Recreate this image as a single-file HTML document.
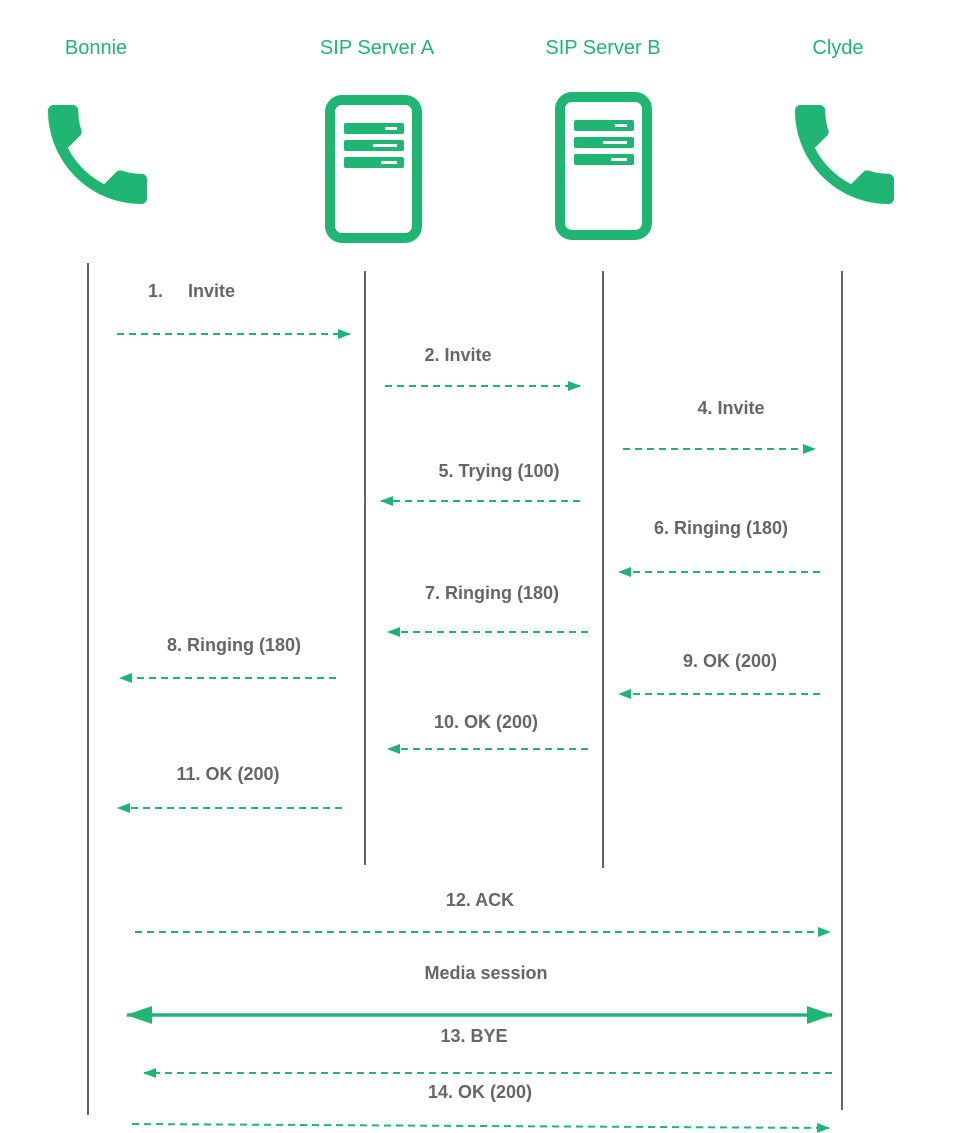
<!DOCTYPE html>
<html><head><meta charset="utf-8"><style>
html,body{margin:0;padding:0;background:#fff;}
svg{display:block;}
.h{font-family:"Liberation Sans",sans-serif;font-size:20px;fill:#21b573;text-anchor:middle;}
.t{font-family:"Liberation Sans",sans-serif;font-size:18px;font-weight:bold;fill:#666;text-anchor:middle;}
.d{stroke:#21b573;stroke-width:2;stroke-dasharray:7 5;fill:none;}
.l{stroke:#666;stroke-width:2;}
</style></head><body>
<svg width="970" height="1133" viewBox="0 0 970 1133" xmlns="http://www.w3.org/2000/svg">
<defs>
<marker id="a" markerWidth="13" markerHeight="10" refX="12" refY="5" orient="auto" markerUnits="userSpaceOnUse"><path d="M0 0L13 5L0 10z" fill="#21b573"/></marker>
<marker id="b" markerWidth="26" markerHeight="18" refX="25" refY="9" orient="auto-start-reverse" markerUnits="userSpaceOnUse"><path d="M0 0L26 9L0 18z" fill="#21b573"/></marker>
<g id="ph"><path transform="translate(31.5,88.5) scale(5.5)" fill="#21b573" d="M6.62 10.79c1.44 2.83 3.76 5.14 6.59 6.59l2.2-2.2c.27-.27.67-.36 1.02-.24 1.120.37 2.330.57 3.570.57.55 0 1 .45 1 1V20c0 .55-.45 1-1 1-9.39 0-17-7.61-17-17 0-.55.45-1 1-1h3.5c.55 0 1 .45 1 1 0 1.25.2 2.45.57 3.57.11.35.03.74-.25 1.02l-2.2 2.2z"/></g>
<g id="sv"><rect x="5" y="5" width="87" height="138" rx="12" fill="none" stroke="#21b573" stroke-width="10"/>
<rect x="19" y="28" width="60" height="11" rx="2" fill="#21b573"/><rect x="60" y="32" width="12" height="3" fill="#fff"/>
<rect x="19" y="45" width="60" height="11" rx="2" fill="#21b573"/><rect x="48" y="49" width="24" height="3" fill="#fff"/>
<rect x="19" y="62" width="60" height="11" rx="2" fill="#21b573"/><rect x="56" y="66" width="16" height="3" fill="#fff"/></g>
</defs>
<text class="h" x="96" y="54">Bonnie</text>
<text class="h" x="377" y="54">SIP Server A</text>
<text class="h" x="603" y="54">SIP Server B</text>
<text class="h" x="838" y="54">Clyde</text>
<use href="#ph"/>
<use href="#ph" transform="translate(747,0)"/>
<use href="#sv" transform="translate(325,95)"/>
<use href="#sv" transform="translate(555,92)"/>
<line class="l" x1="88" y1="263" x2="88" y2="1115"/>
<line class="l" x1="365" y1="271" x2="365" y2="865"/>
<line class="l" x1="603" y1="271" x2="603" y2="868"/>
<line class="l" x1="842" y1="271" x2="842" y2="1110"/>
<text class="t" x="148" y="297" style="text-anchor:start">1.</text><text class="t" x="188" y="297" style="text-anchor:start">Invite</text>
<line class="d" x1="117" y1="334" x2="350" y2="334" marker-end="url(#a)"/>
<text class="t" x="458" y="361">2. Invite</text>
<line class="d" x1="385" y1="386" x2="580" y2="386" marker-end="url(#a)"/>
<text class="t" x="731" y="414">4. Invite</text>
<line class="d" x1="623" y1="449" x2="815" y2="449" marker-end="url(#a)"/>
<text class="t" x="499" y="477">5. Trying (100)</text>
<line class="d" x1="580" y1="501" x2="381" y2="501" marker-end="url(#a)"/>
<text class="t" x="721" y="534">6. Ringing (180)</text>
<line class="d" x1="820" y1="572" x2="619" y2="572" marker-end="url(#a)"/>
<text class="t" x="492" y="599">7. Ringing (180)</text>
<line class="d" x1="588" y1="632" x2="388" y2="632" marker-end="url(#a)"/>
<text class="t" x="234" y="651">8. Ringing (180)</text>
<line class="d" x1="336" y1="678" x2="120" y2="678" marker-end="url(#a)"/>
<text class="t" x="730" y="667">9. OK (200)</text>
<line class="d" x1="820" y1="694" x2="619" y2="694" marker-end="url(#a)"/>
<text class="t" x="486" y="728">10. OK (200)</text>
<line class="d" x1="588" y1="749" x2="388" y2="749" marker-end="url(#a)"/>
<text class="t" x="228" y="780">11. OK (200)</text>
<line class="d" x1="342" y1="808" x2="118" y2="808" marker-end="url(#a)"/>
<text class="t" x="480" y="906">12. ACK</text>
<line class="d" x1="135" y1="932" x2="830" y2="932" marker-end="url(#a)"/>
<text class="t" x="486" y="979">Media session</text>
<line x1="127" y1="1015" x2="832" y2="1015" stroke="#21b573" stroke-width="3.5" marker-start="url(#b)" marker-end="url(#b)"/>
<text class="t" x="474" y="1042">13. BYE</text>
<line class="d" x1="832" y1="1073" x2="144" y2="1073" marker-end="url(#a)"/>
<text class="t" x="480" y="1098">14. OK (200)</text>
<line class="d" x1="132" y1="1124" x2="829" y2="1128" marker-end="url(#a)"/>
</svg>
</body></html>
